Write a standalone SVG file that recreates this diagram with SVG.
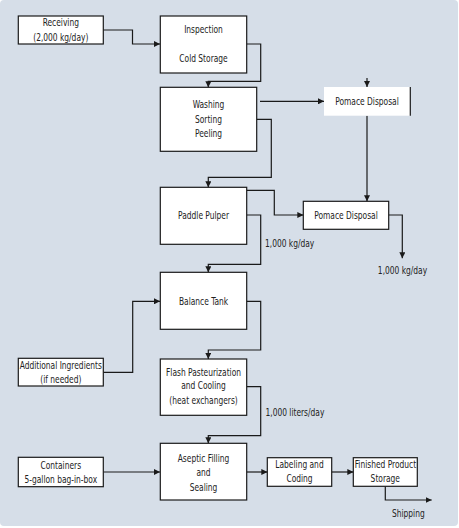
<svg xmlns="http://www.w3.org/2000/svg" width="459" height="528" viewBox="0 0 459 528">
<defs>
<marker id="ah" markerUnits="userSpaceOnUse" markerWidth="6" markerHeight="6" refX="6" refY="3" orient="auto">
<path d="M0,0 L6,3 L0,6 z" fill="#1a1a1a"/>
</marker>
<style>
.box{fill:#fff;stroke:#1a1a1a;stroke-width:1.2}
.ln{fill:none;stroke:#1a1a1a;stroke-width:1.2;marker-end:url(#ah)}
.pl{fill:none;stroke:#1a1a1a;stroke-width:1.2}
text{font-family:"DejaVu Sans Condensed","Liberation Sans",sans-serif;font-size:10.3px;fill:#222;text-anchor:middle;transform-box:fill-box;transform-origin:center;transform:scaleX(0.81)}
.st{text-anchor:start;transform-origin:left center}
</style>
</defs>
<rect x="0" y="0" width="458" height="526" rx="4" fill="#d6dee8"/>
<g id="connectors">
<path class="ln" d="M103,30 H132.5 V44 H160"/>
<path class="ln" d="M246.7,44 H260.7 V81.3 H208.3 V87.3"/>
<path class="ln" d="M260,101.3 H324"/>
<path class="ln" d="M367,78 V87"/>
<path class="ln" d="M256.7,119.3 H271.3 V177.3 H208.3 V187.3"/>
<path class="ln" d="M367,115.7 V201.3"/>
<path class="ln" d="M246.7,190.3 H274.3 V215 H303.3"/>
<path class="ln" d="M388.7,215 H402.3 V258.3"/>
<path class="ln" d="M246.7,215 H260.7 V264.3 H208.3 V272.3"/>
<path class="ln" d="M103.3,372.3 H132.7 V301.3 H160"/>
<path class="ln" d="M246.7,301.3 H260.7 V350 H208.3 V359"/>
<path class="ln" d="M246.7,386.7 H260.7 V435.7 H208.3 V443.3"/>
<path class="ln" d="M103.3,472 H160"/>
<path class="ln" d="M246.7,472 H267.3"/>
<path class="ln" d="M331.7,472 H353.3"/>
<path class="ln" d="M385.3,486.3 V500 H431.7"/>
</g>
<g id="receiving"><rect class="box" x="18.3" y="16" width="85" height="28"/><text x="60.8" y="26.5">Receiving</text><text x="60.8" y="41">(2,000 kg/day)</text></g>
<g id="inspection"><rect class="box" x="160.3" y="16" width="86.4" height="57"/><text x="203.5" y="33.5">Inspection</text><text x="203.5" y="62.5">Cold Storage</text></g>
<g id="washing"><rect class="box" x="160.3" y="87.3" width="96.4" height="64"/><text x="208.5" y="108.5">Washing</text><text x="208.5" y="123">Sorting</text><text x="208.5" y="137.5">Peeling</text></g>
<g id="pomace1"><rect x="324" y="87" width="86.3" height="28.7" fill="#fff"/><line class="pl" x1="410.3" y1="87" x2="410.3" y2="115.7"/><text x="367" y="105.5" fill="#444">Pomace Disposal</text></g>
<g id="pulper"><rect class="box" x="160.3" y="187.3" width="86.4" height="57"/><text x="203.5" y="219">Paddle Pulper</text></g>
<g id="pomace2"><rect class="box" x="303.3" y="201.3" width="85.4" height="28"/><text x="346" y="219.5">Pomace Disposal</text></g>
<text x="402.5" y="274.5">1,000 kg/day</text>
<text class="st" x="265" y="247">1,000 kg/day</text>
<g id="balance"><rect class="box" x="160.3" y="272.3" width="86.4" height="57"/><text x="203.5" y="305.5">Balance Tank</text></g>
<g id="additional"><rect class="box" x="18.3" y="358.3" width="85" height="27.7"/><text x="60.8" y="369.5">Additional Ingredients</text><text x="60.8" y="383.5">(if needed)</text></g>
<g id="flash"><rect class="box" x="160.3" y="359" width="86.4" height="56.3"/><text x="203.5" y="376">Flash Pasteurization</text><text x="203.5" y="389.5">and Cooling</text><text x="203.5" y="404.5">(heat exchangers)</text></g>
<text class="st" x="265.5" y="416">1,000 liters/day</text>
<g id="aseptic"><rect class="box" x="160.3" y="443.3" width="86.4" height="56.7"/><text x="203.5" y="462.5">Aseptic Filling</text><text x="203.5" y="476.5">and</text><text x="203.5" y="491">Sealing</text></g>
<g id="containers"><rect class="box" x="18.3" y="457.3" width="85" height="29.4"/><text x="60.8" y="469.5">Containers</text><text x="60.8" y="483.5">5-gallon bag-in-box</text></g>
<g id="labeling"><rect class="box" x="267.3" y="457.7" width="64.4" height="28.6"/><text x="299.5" y="468.5">Labeling and</text><text x="299.5" y="482">Coding</text></g>
<g id="finished"><rect class="box" x="353.3" y="457.7" width="64" height="28.6"/><text x="385.3" y="468.5">Finished Product</text><text x="385.3" y="482">Storage</text></g>
<text x="408.3" y="517.5">Shipping</text>
</svg>
